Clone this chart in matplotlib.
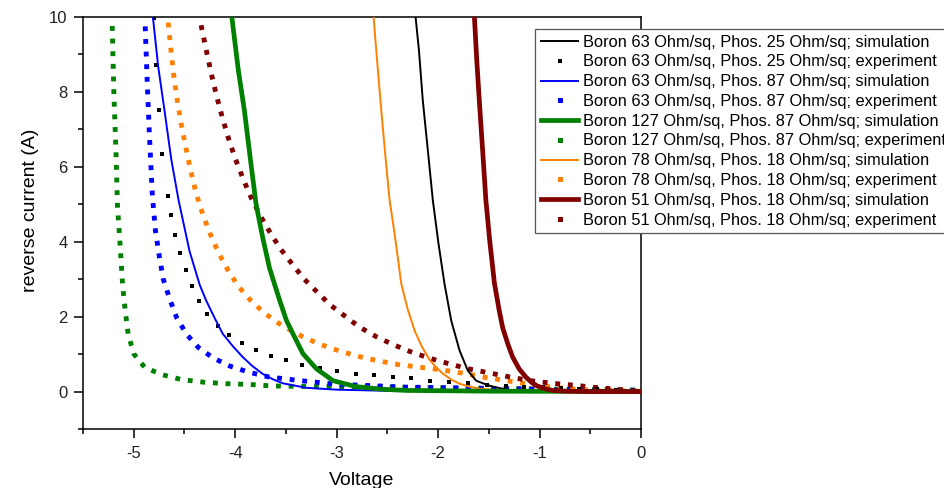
import matplotlib
matplotlib.use("Agg")
import matplotlib.pyplot as plt
from matplotlib.lines import Line2D
from matplotlib.ticker import MultipleLocator

plt.rcParams['font.family'] = ['Liberation Sans', 'DejaVu Sans']
plt.rcParams['axes.unicode_minus'] = False

# ---- data (voltage in V, reverse current in A) ----
# Boron 63 / Phos. 25
sim_black_v = [-2.222, -2.189, -2.151, -2.101, -2.052, -1.996, -1.937, -1.871, -1.789, -1.707, -1.625,
               -1.52, -1.445, -1.297, -1.0, -0.5, 0.0]
sim_black_i = [10.0, 9.12, 7.78, 6.44, 5.11, 3.95, 2.88, 1.90, 1.10, 0.56, 0.29,
               0.18, 0.12, 0.04, 0.01, 0.0, 0.0]
exp_black_v = [-4.801, -4.784, -4.755, -4.719, -4.663, -4.631, -4.592, -4.548, -4.489, -4.43, -4.358, -4.277,
               -4.174, -4.063, -3.935, -3.797, -3.65, -3.495, -3.338, -3.167, -2.993, -2.813, -2.633, -2.449,
               -2.265, -2.078, -1.894, -1.707, -1.52, -1.33, -1.15, -0.97, -0.79, -0.61, -0.43, -0.25, -0.07]
exp_black_i = [9.97, 8.73, 7.51, 6.34, 5.22, 4.71, 4.19, 3.70, 3.24, 2.81, 2.43, 2.07,
               1.76, 1.51, 1.29, 1.11, 0.95, 0.85, 0.71, 0.62, 0.54, 0.48, 0.44, 0.38,
               0.35, 0.29, 0.25, 0.22, 0.18, 0.16, 0.13, 0.12, 0.10, 0.08, 0.06, 0.04, 0.02]

# Boron 63 / Phos. 87
sim_blue_v = [-4.811, -4.76, -4.697, -4.63, -4.558, -4.45, -4.35, -4.286, -4.2, -4.122, -4.02, -3.925,
              -3.83, -3.728, -3.63, -3.531, -3.3, -3.0, -2.5, -2.0, 0.0]
sim_blue_i = [10.0, 8.7, 7.51, 6.2, 5.11, 3.75, 2.85, 2.43, 1.95, 1.54, 1.2, 0.92,
              0.68, 0.47, 0.33, 0.22, 0.10, 0.05, 0.02, 0.01, 0.0]
exp_blue_v = [-4.887, -4.867, -4.844, -4.818, -4.808, -4.785, -4.749, -4.71, -4.644, -4.575, -4.476, -4.361,
              -4.218, -4.053, -3.869, -3.669, -3.354, -3.027, -2.682, -2.34, -1.9, -1.4, -0.8, 0.0]
exp_blue_i = [9.75, 8.26, 6.77, 5.32, 4.97, 4.28, 3.63, 3.01, 2.46, 1.96, 1.52, 1.17,
              0.90, 0.68, 0.52, 0.39, 0.29, 0.20, 0.16, 0.12, 0.10, 0.08, 0.05, 0.03]

# Boron 127 / Phos. 87
sim_green_v = [-4.033, -3.97, -3.909, -3.85, -3.794, -3.728, -3.662, -3.61, -3.561, -3.495, -3.43, -3.332,
               -3.2, -3.036, -2.806, -2.544, -2.314, -1.5, 0.0]
sim_green_i = [10.0, 8.6, 7.5, 6.2, 5.0, 4.1, 3.3, 2.85, 2.43, 1.90, 1.54, 1.01,
               0.61, 0.29, 0.13, 0.06, 0.03, 0.01, 0.0]
exp_green_v = [-5.212, -5.195, -5.175, -5.160, -5.133, -5.109, -5.084, -5.054, -4.998, -4.89, -4.72, -4.53,
               -4.31, -4.09, -3.86, -3.64, -3.2, -2.6, -2.0, -1.4, -0.8, 0.0]
exp_green_i = [9.76, 7.89, 6.41, 4.95, 3.86, 2.82, 2.16, 1.52, 1.00, 0.64, 0.45, 0.32,
               0.25, 0.21, 0.19, 0.15, 0.13, 0.12, 0.10, 0.08, 0.06, 0.04]

# Boron 78 / Phos. 18
sim_orange_v = [-2.636, -2.60, -2.56, -2.52, -2.478, -2.429, -2.363, -2.30, -2.232, -2.16, -2.085, -2.02,
                -1.954, -1.87, -1.79, -1.69, -1.593, -1.396, -1.0, 0.0]
sim_orange_i = [10.0, 8.8, 7.51, 6.3, 5.11, 4.22, 2.88, 2.2, 1.63, 1.2, 0.85, 0.65,
                0.48, 0.32, 0.21, 0.13, 0.08, 0.03, 0.01, 0.0]
exp_orange_v = [-4.66, -4.634, -4.607, -4.572, -4.532, -4.486, -4.437, -4.385, -4.319, -4.248, -4.165, -4.073,
                -3.972, -3.85, -3.719, -3.571, -3.45, -3.338, -3.164, -2.98, -2.787, -2.59, -2.39, -2.183,
                -1.969, -1.756, -1.543, -1.33, -1.1, -0.885, -0.655, -0.44, -0.2, 0.0]
exp_orange_i = [9.85, 9.14, 8.47, 7.80, 7.14, 6.51, 5.88, 5.29, 4.73, 4.22, 3.71, 3.25,
                2.82, 2.44, 2.11, 1.82, 1.63, 1.47, 1.26, 1.09, 0.94, 0.82, 0.72, 0.65,
                0.58, 0.49, 0.38, 0.29, 0.20, 0.12, 0.07, 0.03, 0.02, 0.01]

# Boron 51 / Phos. 18
sim_maroon_v = [-1.642, -1.62, -1.594, -1.56, -1.529, -1.49, -1.445, -1.40, -1.363, -1.31, -1.265, -1.20,
                -1.133, -1.08, -1.035, -0.95, -0.871, -0.74, -0.5, 0.0]
sim_maroon_i = [10.0, 8.9, 7.78, 6.4, 5.11, 4.0, 2.9, 2.2, 1.70, 1.25, 0.92, 0.6,
                0.38, 0.25, 0.16, 0.08, 0.03, 0.01, 0.0, 0.0]
exp_maroon_v = [-4.336, -4.287, -4.238, -4.185, -4.126, -4.064, -3.995, -3.919, -3.84, -3.751, -3.653, -3.551,
                -3.44, -3.322, -3.194, -3.062, -2.921, -2.774, -2.613, -2.449, -2.278, -2.097, -1.904, -1.707,
                -1.5, -1.297, -1.09, -0.876, -0.663, -0.45, -0.24, -0.04]
exp_maroon_i = [9.78, 9.14, 8.52, 7.91, 7.31, 6.74, 6.19, 5.66, 5.16, 4.69, 4.23, 3.80,
                3.41, 3.01, 2.66, 2.31, 2.02, 1.72, 1.47, 1.26, 1.07, 0.90, 0.75, 0.61,
                0.50, 0.39, 0.29, 0.22, 0.17, 0.11, 0.06, 0.01]

labels = [
    "Boron 63 Ohm/sq, Phos. 25 Ohm/sq; simulation",
    "Boron 63 Ohm/sq, Phos. 25 Ohm/sq; experiment",
    "Boron 63 Ohm/sq, Phos. 87 Ohm/sq; simulation",
    "Boron 63 Ohm/sq, Phos. 87 Ohm/sq; experiment",
    "Boron 127 Ohm/sq, Phos. 87 Ohm/sq; simulation",
    "Boron 127 Ohm/sq, Phos. 87 Ohm/sq; experiment",
    "Boron 78 Ohm/sq, Phos. 18 Ohm/sq; simulation",
    "Boron 78 Ohm/sq, Phos. 18 Ohm/sq; experiment",
    "Boron 51 Ohm/sq, Phos. 18 Ohm/sq; simulation",
    "Boron 51 Ohm/sq, Phos. 18 Ohm/sq; experiment",
]

BLACK, BLUE, GREEN, ORANGE, MAROON = "#000000", "#0000ff", "#008000", "#ff8000", "#800000"

fig = plt.figure(figsize=(9.44, 4.88), dpi=100)
ax = fig.add_axes([83 / 944, 1 - 429 / 488, (641 - 83) / 944, (429 - 17) / 488])

# experiments drawn as thick dotted lines (square dots)
for v, i, c in [(exp_green_v, exp_green_i, GREEN), (exp_blue_v, exp_blue_i, BLUE),
                (exp_orange_v, exp_orange_i, ORANGE), (exp_maroon_v, exp_maroon_i, MAROON)]:
    ax.plot(v, i, color=c, lw=3.5, dashes=(1, 1.6), dash_capstyle='butt', zorder=2)
ax.plot(exp_black_v, exp_black_i, ls='none', marker='s', ms=2.3, mew=0, color=BLACK, zorder=2)

# simulations
ax.plot(sim_blue_v, sim_blue_i, color=BLUE, lw=1.4, zorder=3)
ax.plot(sim_black_v, sim_black_i, color=BLACK, lw=1.4, zorder=3)
ax.plot(sim_orange_v, sim_orange_i, color=ORANGE, lw=1.4, zorder=3)
ax.plot(sim_green_v, sim_green_i, color=GREEN, lw=3.4, zorder=3)
ax.plot(sim_maroon_v, sim_maroon_i, color=MAROON, lw=3.4, zorder=3)

ax.set_xlim(-5.5, 0)
ax.set_ylim(-1, 10)
ax.xaxis.set_major_locator(MultipleLocator(1))
ax.xaxis.set_minor_locator(MultipleLocator(0.5))
ax.yaxis.set_major_locator(MultipleLocator(2))
ax.yaxis.set_minor_locator(MultipleLocator(1))
ax.tick_params(which='major', direction='out', length=6.5, width=1.1, labelsize=12,
               labelcolor='#222222')
ax.tick_params(which='minor', direction='out', length=3.6, width=1.1)
ax.tick_params(axis='y', which='major', pad=4.5)
ax.tick_params(axis='x', which='major', pad=6)
for s in ax.spines.values():
    s.set_linewidth(1.1)
ax.set_xlabel("Voltage", fontsize=14, labelpad=8)
ax.set_ylabel("reverse current (A)", fontsize=14)
ax.yaxis.set_label_coords(-0.079, 0.53)

handles = []
for c, lw in [(BLACK, 1.4), (BLUE, 1.4), (GREEN, 3.4), (ORANGE, 1.4), (MAROON, 3.4)]:
    handles.append(Line2D([], [], color=c, lw=lw))
    handles.append(Line2D([], [], ls='none', marker='s', ms=2.5 if c == BLACK else 3.6, mew=0, color=c))

leg = fig.legend(handles, labels, loc='upper left', bbox_to_anchor=(535 / 944, 1 - 29 / 488),
                 bbox_transform=fig.transFigure, borderaxespad=0, fontsize=11.8, frameon=True,
                 fancybox=False, framealpha=1, edgecolor='#555555', handlelength=2.3,
                 handletextpad=0.3, labelspacing=0.29, borderpad=0.35)
leg.get_frame().set_linewidth(0.9)

fig.savefig("out.png", dpi=100)
